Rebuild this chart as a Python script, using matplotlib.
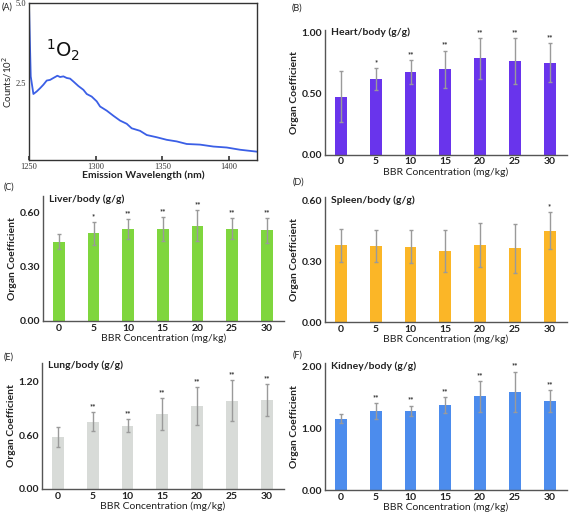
import numpy as np
import matplotlib
matplotlib.use("Agg")
import matplotlib.pyplot as plt
import matplotlib.transforms as mtrans

# ---------------- data ----------------
wavelength = [1250, 1251.3, 1253.3, 1255.8, 1258.3, 1260.8, 1263.3, 1265.8, 1268.3, 1271.3,
              1273.3, 1275.8, 1278.3, 1280.8, 1283.3, 1287, 1290.8, 1293.3, 1297, 1300.8,
              1303.3, 1308.3, 1313.3, 1318.3, 1323.3, 1327, 1333.3, 1338.3, 1345.8, 1353.3,
              1360.8, 1368.3, 1378.3, 1388.3, 1398.3, 1408.3, 1421]
counts = [4.95, 2.71, 2.16, 2.24, 2.34, 2.45, 2.58, 2.60, 2.66, 2.73,
          2.69, 2.71, 2.66, 2.64, 2.55, 2.41, 2.29, 2.16, 2.08, 1.93,
          1.77, 1.64, 1.48, 1.33, 1.23, 1.09, 1.01, 0.88, 0.81, 0.73,
          0.68, 0.60, 0.58, 0.52, 0.49, 0.42, 0.36]

concentrations = ["0", "5", "10", "15", "20", "25", "30"]

heart_mean = [0.475, 0.615, 0.678, 0.697, 0.787, 0.765, 0.751]
heart_err = [0.21, 0.09, 0.10, 0.155, 0.17, 0.19, 0.16]
heart_sig = ["", "*", "**", "**", "**", "**", "**"]

liver_mean = [0.438, 0.484, 0.508, 0.508, 0.526, 0.510, 0.500]
liver_err = [0.043, 0.063, 0.057, 0.067, 0.084, 0.060, 0.070]
liver_sig = ["", "*", "**", "**", "**", "**", "**"]

spleen_mean = [0.378, 0.375, 0.371, 0.350, 0.380, 0.362, 0.449]
spleen_err = [0.082, 0.079, 0.081, 0.105, 0.108, 0.120, 0.090]
spleen_sig = ["", "", "", "", "", "", "*"]

lung_mean = [0.581, 0.754, 0.709, 0.836, 0.930, 0.986, 0.998]
lung_err = [0.11, 0.11, 0.072, 0.18, 0.21, 0.23, 0.18]
lung_sig = ["", "**", "**", "**", "**", "**", "**"]

kidney_mean = [1.154, 1.275, 1.275, 1.368, 1.516, 1.582, 1.440]
kidney_err = [0.077, 0.135, 0.088, 0.132, 0.25, 0.33, 0.18]
kidney_sig = ["", "**", "**", "**", "**", "**", "**"]

# ---------------- figure ----------------
W, H = 569, 515
fig = plt.figure(figsize=(W / 100, H / 100), dpi=100)
plt.rcParams['font.family'] = ['Lato', 'DejaVu Sans']


def px_axes(left, top, right, bottom):
    return fig.add_axes([left / W, 1 - bottom / H, (right - left) / W, (bottom - top) / H])


TXT = "#222222"

# ---- Panel A ----
axA = px_axes(29, 3, 257, 160)
axA.plot(wavelength, counts, color="#3b5fe6", lw=1.3)
axA.set_xlim(1250, 1421)
axA.set_ylim(0.1, 5.0)
axA.set_xticks([1250, 1300, 1350, 1400])
axA.set_yticks([2.5, 5.0])
axA.set_yticklabels(["2.5", "5.0"])
axA.tick_params(axis="x", direction="in", length=3, width=1.2, color="#333", pad=2)
axA.tick_params(axis="y", length=0, pad=2)
for lab in axA.get_xticklabels() + axA.get_yticklabels():
    lab.set_family(["Liberation Serif"])
    lab.set_fontsize(6)
    lab.set_color("#333")
for s in axA.spines.values():
    s.set_color("#333")
    s.set_linewidth(1.0)
axA.set_xlabel("Emission Wavelength (nm)", fontsize=7.5, fontweight="bold", color=TXT, labelpad=0)
axA.set_ylabel("Counts/10$^2$", fontsize=7, color=TXT, labelpad=1)
axA.text(1263, 3.3, "$^1$O$_2$", fontsize=14, color="#111", family=["DejaVu Sans"])
fig.text(2 / W, 1 - 7 / H, "(A)", fontsize=6.5, color=TXT, va="center")


def bar_panel(ax, means, errs, sigs, color, ylim, yticks, ytlabels, title, title_y, label, label_xy):
    x = np.arange(len(concentrations))
    ax.bar(x, means, width=0.34, color=color, zorder=2)
    _, caps, bars = ax.errorbar(x, means, yerr=errs, fmt="none", ecolor="#9a9a9a",
                                elinewidth=1.0, capsize=1.3, capthick=1.0, zorder=3)
    for c in caps:
        c.set_color("#444")
    for xi, m, e, s in zip(x, means, errs, sigs):
        if s:
            ax.text(xi, m + e + (ylim[1] * 0.015), s, ha="center", va="bottom",
                    fontsize=5.5, color="#333", fontweight="bold")
    ax.set_xlim(-0.46, 6.5)
    ax.set_ylim(*ylim)
    ax.set_xticks(x)
    ax.set_xticklabels(concentrations)
    ax.set_yticks(yticks)
    ax.set_yticklabels(ytlabels)
    ax.tick_params(axis="x", length=0, labelsize=7.5, colors=TXT, pad=2)
    ax.tick_params(axis="y", length=0, labelsize=7.5, colors=TXT, pad=2)
    for lab in ax.get_xticklabels() + ax.get_yticklabels():
        lab.set_fontweight("bold")
    ax.spines["top"].set_visible(False)
    ax.spines["right"].set_visible(False)
    for k in ("left", "bottom"):
        ax.spines[k].set_color("#555")
        ax.spines[k].set_linewidth(1.0)
    ax.set_xlabel("BBR Concentration (mg/kg)", fontsize=7.5, color=TXT, labelpad=0.5)
    ax.set_ylabel("Organ Coefficient", fontsize=7.5, color=TXT, fontweight="bold", labelpad=2)
    tr = mtrans.blended_transform_factory(ax.transAxes, ax.transData)
    ax.text(0.025, title_y, title, transform=tr, fontsize=7.5, color=TXT,
            fontweight="bold", va="center", ha="left")
    fig.text(label_xy[0] / W, 1 - label_xy[1] / H, label, fontsize=6.5, color=TXT, va="center")


axB = px_axes(325, 30, 567, 154.5)
bar_panel(axB, heart_mean, heart_err, heart_sig, "#6934ec", (0, 1.02),
          [0, 0.5, 1.0], ["0.00", "0.50", "1.00"], "Heart/body (g/g)", 1.0, "(B)", (292, 8))

axC = px_axes(43, 196, 284, 321)
bar_panel(axC, liver_mean, liver_err, liver_sig, "#7fd63e", (0, 0.69),
          [0, 0.3, 0.6], ["0.00", "0.30", "0.60"], "Liver/body (g/g)", 0.672, "(C)", (4, 187))

axD = px_axes(325, 197, 567, 322)
bar_panel(axD, spleen_mean, spleen_err, spleen_sig, "#fbb627", (0, 0.615),
          [0, 0.3, 0.6], ["0.00", "0.30", "0.60"], "Spleen/body (g/g)", 0.6, "(D)", (293, 182))

axE = px_axes(42, 363, 284, 489)
bar_panel(axE, lung_mean, lung_err, lung_sig, "#d8dbd8", (0, 1.41),
          [0, 0.6, 1.2], ["0.00", "0.60", "1.20"], "Lung/body (g/g)", 1.38, "(E)", (4, 357))

axF = px_axes(325, 363, 567, 490)
bar_panel(axF, kidney_mean, kidney_err, kidney_sig, "#4c8ced", (0, 2.05),
          [0, 1.0, 2.0], ["0.00", "1.00", "2.00"], "Kidney/body (g/g)", 2.0, "(F)", (293, 355))

fig.savefig("out.png", dpi=100)
